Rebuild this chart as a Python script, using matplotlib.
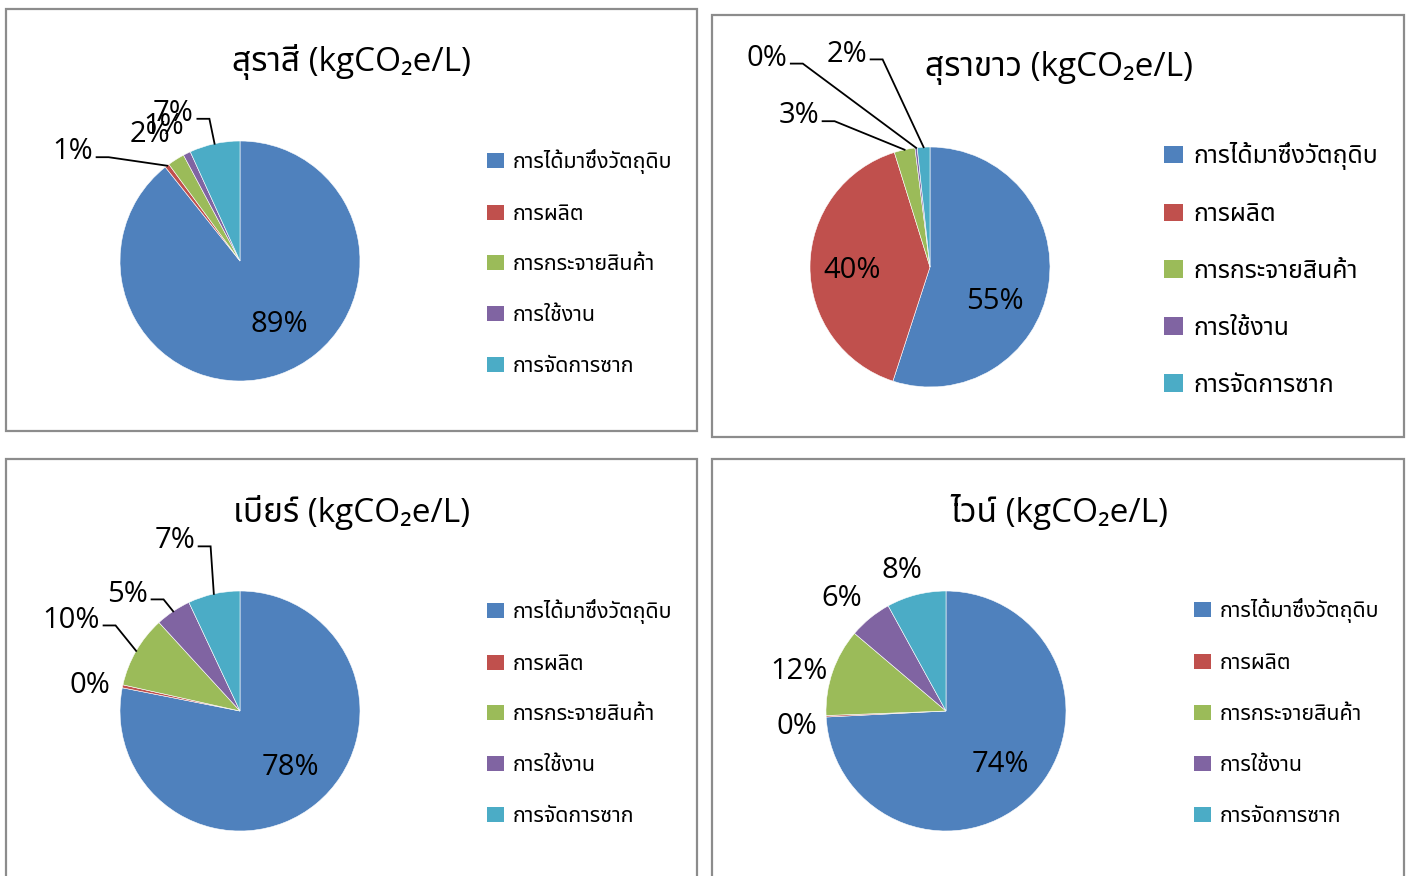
import numpy as np
import matplotlib
matplotlib.use("Agg")
import matplotlib.pyplot as plt
from matplotlib import font_manager
from matplotlib.ft2font import FT2Font
from matplotlib.patches import Rectangle, Patch

# stages of the product life cycle (legend entries)
stages = ["การได้มาซึ่งวัตถุดิบ", "การผลิต", "การกระจายสินค้า", "การใช้งาน", "การจัดการซาก"]
colors = ["#4F81BD", "#C0504D", "#9BBB59", "#8064A2", "#4BACC6"]

titles = ["สุราสี (kgCO₂e/L)", "สุราขาว (kgCO₂e/L)", "เบียร์ (kgCO₂e/L)", "ไวน์ (kgCO₂e/L)"]

# share of each stage, percent
spirits = [89.3, 0.6, 2.3, 1.0, 6.8]
white_spirits = [55.0, 40.2, 2.8, 0.3, 1.7]
beer = [78.1, 0.4, 9.7, 4.8, 7.0]
wine = [74.2, 0.2, 11.8, 5.8, 8.0]


def thai_font():
    preferred = ["Noto Sans Thai", "Noto Sans Thai UI", "Loma", "Garuda", "Tlwg Typo",
                 "Norasi", "Waree", "Sarabun", "Kinnari", "Umpush"]
    found = []
    for f in font_manager.fontManager.ttflist:
        try:
            if 0x0E01 in FT2Font(f.fname).get_charmap():
                found.append(f.name)
        except Exception:
            pass
    for name in preferred:
        if name in found:
            return name
    return found[0] if found else None


th = thai_font()
families = ["Open Sans"] + ([th] if th else []) + ["DejaVu Sans"]
plt.rcParams["font.family"] = families

W, H = 1408, 876
fig = plt.figure(figsize=(W / 100, H / 100), dpi=100)
fig.patch.set_facecolor("white")

R = 120  # pie radius in pixels


def px_rect(x0, y0, x1, y1):
    return [x0 / W, 1 - y1 / H, (x1 - x0) / W, (y1 - y0) / H]


# panel frames: (x0, y0, x1, y1) in pixels from top-left
frames = [(6, 9, 697, 431), (712, 15, 1404, 437), (6, 459, 697, 900), (712, 459, 1404, 900)]
centers = [(240, 261), (930, 267), (240, 711), (946, 711)]
title_pos = [(352, 62), (1059, 68), (352, 512), (1059, 512)]
# legend: left x, top y, font size, label spacing
legend_pos = [(487, 149, 15.4, 1.39), (1164, 142, 17.8, 1.29), (487, 599, 15.4, 1.39), (1194, 598, 15.4, 1.40)]

# label layout per panel: (x, y, leader) in pie units; leader labels are right-aligned
label_layout = [
    [(0.33, -0.53, False), (-1.225, 0.91, True), (-0.75, 1.05, False), (-0.64, 1.12, False), (-0.385, 1.23, True)],
    [(0.54, -0.29, False), (-0.65, -0.03, False), (-0.925, 1.26, True), (-1.19, 1.74, True), (-0.525, 1.775, True)],
    [(0.42, -0.47, False), (-1.25, 0.21, False), (-1.167, 0.758, True), (-0.767, 0.975, True), (-0.375, 1.417, True)],
    [(0.45, -0.45, False), (-1.24, -0.125, False), (-1.225, 0.33, False), (-0.87, 0.94, False), (-0.37, 1.17, False)],
]

series = [spirits, white_spirits, beer, wine]

for i, vals in enumerate(series):
    x0, y0, x1, y1 = frames[i]
    fig.patches.append(Rectangle((x0 / W, 1 - y1 / H), (x1 - x0) / W, (y1 - y0) / H,
                                 transform=fig.transFigure, fill=False,
                                 edgecolor="#8c8c8c", linewidth=1.6))

    cx, cy = centers[i]
    ax = fig.add_axes(px_rect(cx - 1.25 * R, cy - 1.25 * R, cx + 1.25 * R, cy + 1.25 * R))
    ax.pie(vals, colors=colors, startangle=90, counterclock=False, radius=1,
           wedgeprops=dict(edgecolor="white", linewidth=0.4))
    ax.set_xlim(-1.25, 1.25)
    ax.set_ylim(-1.25, 1.25)

    fr = np.array(vals) / np.sum(vals)
    cum = np.cumsum(fr) - fr / 2
    for j, v in enumerate(vals):
        lx, ly, leader = label_layout[i][j]
        txt = "%.0f%%" % v
        if leader:
            ax.text(lx, ly, txt, ha="right", va="center", fontsize=21, clip_on=False)
            ang = np.deg2rad(90 - 360 * cum[j])
            ex, ey = np.cos(ang), np.sin(ang)
            yl = ly - 0.045
            ax.plot([lx + 0.03, lx + 0.13, ex], [yl, yl, ey], color="black",
                    linewidth=1.3, clip_on=False, solid_joinstyle="miter")
        else:
            ax.text(lx, ly, txt, ha="center", va="center", fontsize=21, clip_on=False)

    tx, ty = title_pos[i]
    fig.text(tx / W, 1 - ty / H, titles[i], ha="center", va="center", fontsize=24)

    lx, ly, fs, sp = legend_pos[i]
    handles = [Patch(facecolor=c, edgecolor="none") for c in colors]
    fig.legend(handles, stages, loc="upper left", bbox_to_anchor=(lx / W, 1 - ly / H),
               bbox_transform=fig.transFigure, frameon=False, fontsize=fs,
               handlelength=0.78, handleheight=0.7, handletextpad=0.4,
               labelspacing=sp, borderpad=0, borderaxespad=0)

fig.savefig("out.png", dpi=100)
